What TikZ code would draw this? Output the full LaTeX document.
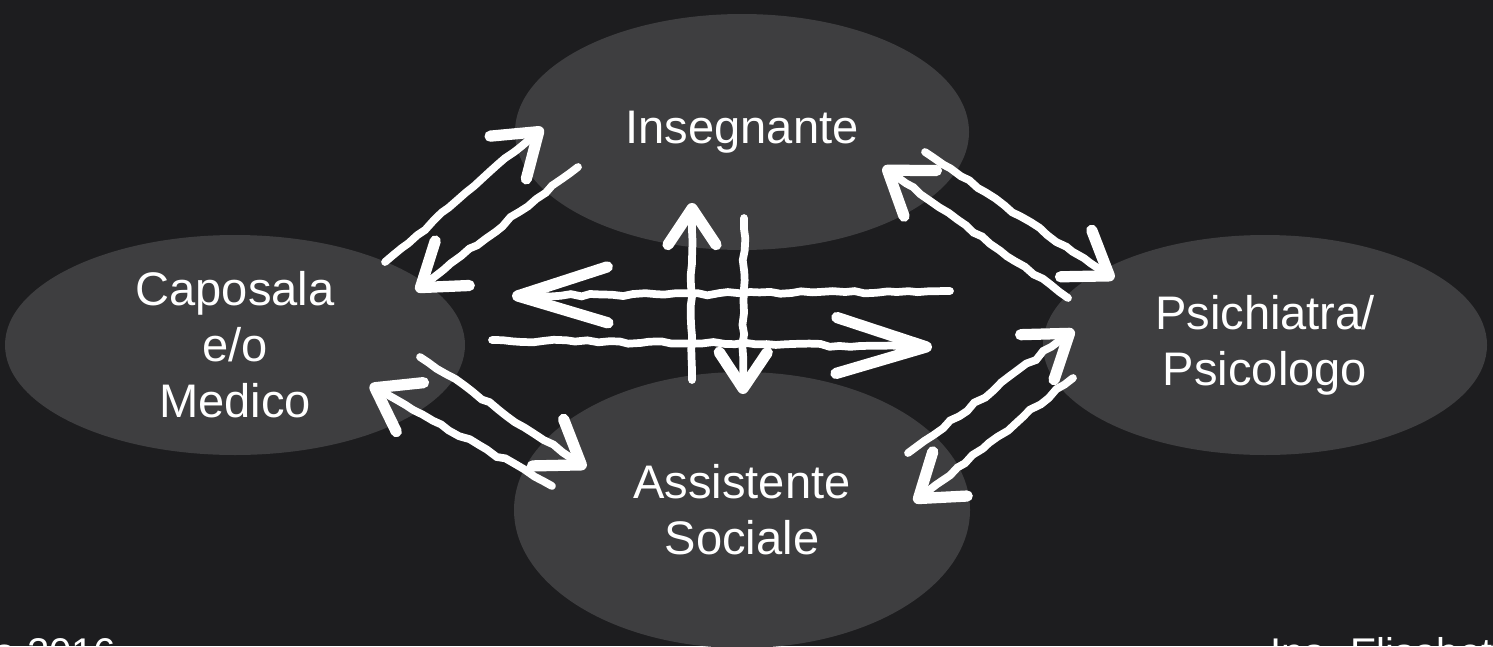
\documentclass[tikz,border=0pt]{standalone}
\usepackage{fontspec}
\setmainfont{Liberation Sans}
\usetikzlibrary{shapes.geometric,arrows.meta,decorations.pathmorphing}

\definecolor{board}{RGB}{29,29,31}
\definecolor{bubble}{RGB}{62,62,64}

\tikzset{
  bubble/.style={ellipse, fill=bubble, inner sep=0pt, text=white, align=center, font=\fontsize{13.4}{15.9}\selectfont},
  chalk/.style={white, line width=2.2pt, line cap=round, decorate, decoration={random steps, segment length=3pt, amplitude=0.45pt, pre length=3pt, post length=8pt}},
  shorthead/.style={-{Straight Barb[length=4mm, width=5.6mm, line width=3.2pt, round]}},
  longhead/.style={-{Straight Barb[length=9mm, width=5.6mm, line width=3.2pt, round]}},
  uphead/.style={-{Straight Barb[length=3.6mm, width=4.8mm, line width=3.2pt, round]}},
  sig/.style={text=white, font=\fontsize{11.4}{13.6}\selectfont, inner sep=0pt, anchor=base west}
}

\begin{document}
\begin{tikzpicture}

\useasboundingbox (0,0) rectangle (14.93,6.46);
\clip (0,0) rectangle (14.93,6.46);
\fill [board] (0,0) rectangle (14.93,6.46);

\draw (7.42,5.14) node (ins) [bubble, minimum width=4.54cm, minimum height=2.36cm] {Insegnante};
\draw (2.35,3.01) node (cap) [bubble, minimum width=4.6cm, minimum height=2.2cm] {Caposala\\e/o\\Medico};
\draw (12.65,3.01) node (psi) [bubble, minimum width=4.44cm, minimum height=2.2cm] {Psichiatra/\\Psicologo};
\draw (7.42,1.36) node (ass) [bubble, minimum width=4.56cm, minimum height=2.76cm] {Assistente\\Sociale};

\coordinate (ci1) at (3.85,3.84);
\coordinate (ci2) at (5.43,5.18);
\coordinate (ic1) at (5.78,4.79);
\coordinate (ic2) at (4.16,3.55);

\draw [chalk, shorthead] (ci1) -- (ci2);
\draw [chalk, shorthead] (ic1) -- (ic2);

\coordinate (pc1) at (9.50,3.55);
\coordinate (pc2) at (5.12,3.50);
\coordinate (cp1) at (4.92,3.06);
\coordinate (cp2) at (9.32,2.99);

\draw [chalk, longhead] (pc1) -- (pc2);
\draw [chalk, longhead] (cp1) -- (cp2);

\coordinate (ai1) at (6.92,2.66);
\coordinate (ai2) at (6.92,4.43);
\coordinate (ia1) at (7.44,4.28);
\coordinate (ia2) at (7.43,2.52);

\draw [chalk, uphead] (ai1) -- (ai2);
\draw [chalk, uphead] (ia1) -- (ia2);

\coordinate (ip1) at (9.25,4.94);
\coordinate (ip2) at (11.14,3.67);
\coordinate (pi1) at (10.68,3.48);
\coordinate (pi2) at (8.83,4.79);

\draw [chalk, shorthead] (ip1) -- (ip2);
\draw [chalk, shorthead] (pi1) -- (pi2);

\coordinate (ap1) at (9.08,1.93);
\coordinate (ap2) at (10.74,3.16);
\coordinate (pa1) at (10.73,2.68);
\coordinate (pa2) at (9.14,1.44);

\draw [chalk, shorthead] (ap1) -- (ap2);
\draw [chalk, shorthead] (pa1) -- (pa2);

\coordinate (ca1) at (4.20,2.89);
\coordinate (ca2) at (5.86,1.78);
\coordinate (ac1) at (5.52,1.60);
\coordinate (ac2) at (3.70,2.61);

\draw [chalk, shorthead] (ca1) -- (ca2);
\draw [chalk, shorthead] (ac1) -- (ac2);

\draw (-0.07,-0.20) node (year) [sig] {o 2016};
\draw (12.70,-0.20) node (sign) [sig] {Ins. Elisabett};

\end{tikzpicture}
\end{document}
